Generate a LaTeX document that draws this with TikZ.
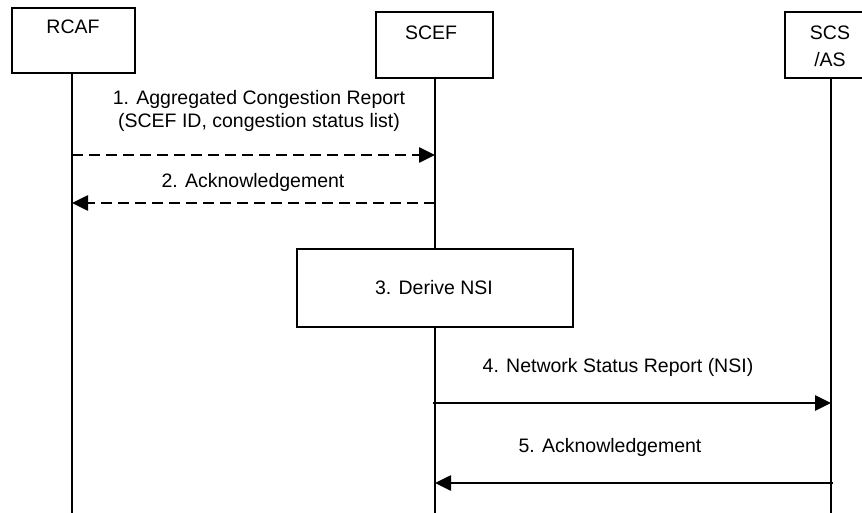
\documentclass[tikz,border=0pt]{standalone}
\usepackage{fontspec}
\setmainfont{Liberation Sans}
\usetikzlibrary{arrows.meta}
\begin{document}
\begin{tikzpicture}[x=1pt,y=-1pt,
  box/.style={draw,line width=2.4pt,inner sep=0pt},
  txt/.style={inner sep=0pt,align=center,font=\fontsize{19.5}{23}\selectfont},
  life/.style={line width=2.4pt},
  msg/.style={line width=2.6pt,-{Triangle[length=16pt,width=15pt]}},
  dmsg/.style={msg,dash pattern=on 11pt off 6pt}]
\useasboundingbox (0,0) rectangle (862,513);
\clip (0,0) rectangle (862,513);
% actor boxes
\node[box,minimum width=123pt,minimum height=65pt] (rcaf) at (73.5,40.5) {};
\node[txt] (rcaft) at (73,27) {RCAF};
\node[box,minimum width=117pt,minimum height=66pt] (scef) at (434.5,45) {};
\node[txt] (sceft) at (431,33) {SCEF};
\node[box,minimum width=92pt,minimum height=66pt] (scs) at (831,45) {};
\node[txt,font=\fontsize{19.5}{27}\selectfont] (scst) at (830,46) {SCS\\/AS};
% process box
\node[box,minimum width=276pt,minimum height=78pt] (nsi) at (435,288) {};
\node[txt] (nsit) at (434,288) {3. Derive NSI};
% lifeline ends
\coordinate (rcafb) at (72,513);
\coordinate (scefb) at (435,513);
\coordinate (scsb) at (831,513);
\draw[life] (72,73) -- (rcafb);
\draw[life] (435,78) -- (nsi.north -| 435,0);
\draw[life] (nsi.south -| 435,0) -- (scefb);
\draw[life] (831,78) -- (scsb);
% message anchor points
\coordinate (a1s) at (72,155);  \coordinate (a1e) at (435,155);
\coordinate (a2s) at (435,203); \coordinate (a2e) at (72,203);
\coordinate (a4s) at (433,403); \coordinate (a4e) at (831,403);
\coordinate (a5s) at (833,483); \coordinate (a5e) at (435,483);
\draw[dmsg] (a1s) -- (a1e);
\draw[dmsg] (a2s) -- (a2e);
\draw[msg] (a4s) -- (a4e);
\draw[msg] (a5s) -- (a5e);
% labels
\node[txt] (l1) at (259,111) {1. Aggregated Congestion Report\\(SCEF ID, congestion status list)};
\node[txt] (l2) at (253,182) {2. Acknowledgement};
\node[txt] (l4) at (618,367) {4. Network Status Report (NSI)};
\node[txt] (l5) at (610,447) {5. Acknowledgement};
\end{tikzpicture}
\end{document}
